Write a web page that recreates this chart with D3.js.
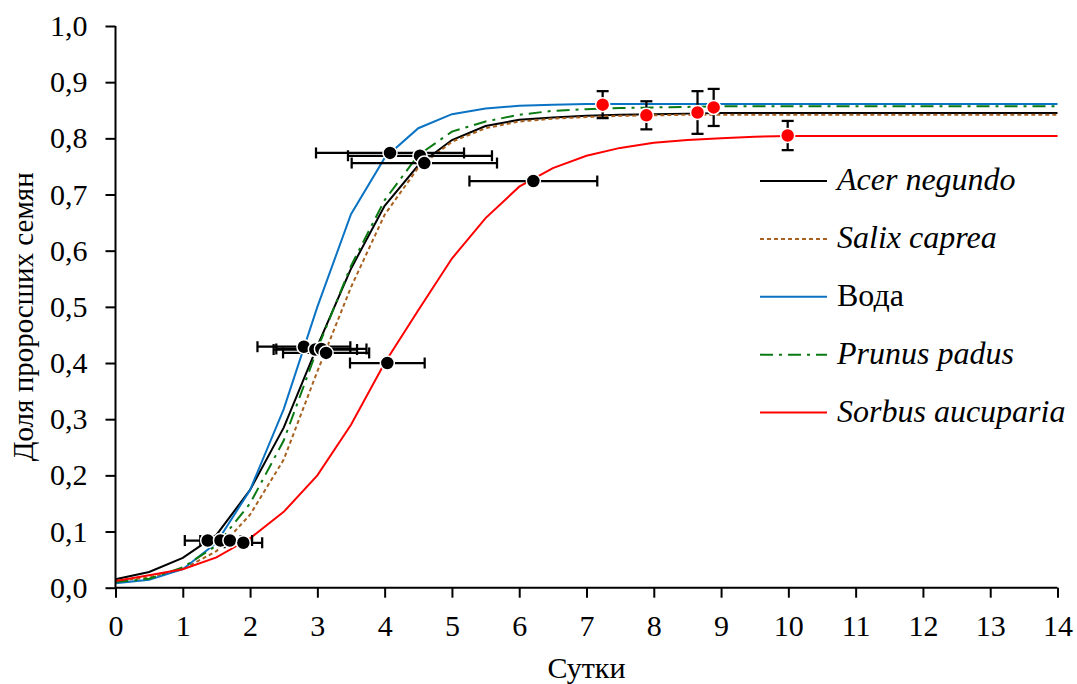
<!DOCTYPE html>
<html>
<head>
<meta charset="utf-8">
<script src="https://d3js.org/d3.v7.min.js"></script>
<style>
  body { margin: 0; background: #fff; }
  svg { font-family: "Liberation Serif", "Times New Roman", serif; }
</style>
</head>
<body>
<svg id="drawing_region"></svg>
<script>
// days on the x axis (curves are sampled every half day)
const days = [0, 0.5, 1, 1.5, 2, 2.5, 3, 3.5, 4, 4.5, 5, 5.5, 6, 6.5, 7, 7.5, 8, 8.5, 9, 9.5,
              10, 10.5, 11, 11.5, 12, 12.5, 13, 13.5, 14];

const acer = [0.015, 0.028, 0.053, 0.094, 0.174, 0.285, 0.430, 0.568, 0.680, 0.752, 0.797, 0.822, 0.833, 0.837, 0.840,
              0.842, 0.843, 0.844, 0.845, 0.845, 0.845, 0.845, 0.845, 0.845, 0.845, 0.845, 0.845, 0.845, 0.845];
const salix = [0.012, 0.018, 0.033, 0.065, 0.130, 0.228, 0.385, 0.535, 0.664, 0.748, 0.794, 0.818, 0.830, 0.835, 0.838,
               0.840, 0.841, 0.842, 0.842, 0.842, 0.842, 0.842, 0.842, 0.842, 0.842, 0.842, 0.842, 0.842, 0.842];
const voda = [0.008, 0.014, 0.033, 0.080, 0.174, 0.318, 0.500, 0.665, 0.765, 0.818, 0.843, 0.853, 0.858, 0.860, 0.861,
              0.861, 0.861, 0.861, 0.861, 0.861, 0.861, 0.861, 0.861, 0.861, 0.861, 0.861, 0.861, 0.861, 0.861];
const prunus = [0.010, 0.016, 0.036, 0.075, 0.150, 0.262, 0.425, 0.573, 0.690, 0.770, 0.812, 0.830, 0.842, 0.849, 0.852,
                0.854, 0.855, 0.856, 0.857, 0.857, 0.857, 0.857, 0.857, 0.857, 0.857, 0.857, 0.857, 0.857, 0.857];
const sorbus = [0.012, 0.022, 0.033, 0.054, 0.088, 0.135, 0.200, 0.290, 0.400, 0.494, 0.586, 0.658, 0.714, 0.747, 0.769,
                0.783, 0.792, 0.797, 0.800, 0.803, 0.804, 0.804, 0.804, 0.804, 0.804, 0.804, 0.804, 0.804, 0.804];

// observed points with horizontal error bars (black)
const obsX    = [1.37, 1.56, 1.70, 1.90, 2.80, 2.97, 3.06, 3.13, 4.04, 4.08, 4.525, 4.59, 6.21];
const obsY    = [0.084, 0.084, 0.084, 0.080, 0.429, 0.424, 0.425, 0.418, 0.400, 0.774, 0.769, 0.756, 0.724];
const obsXErr = [0.34, 0.30, 0.33, 0.28, 0.69, 0.62, 0.67, 0.64, 0.555, 1.10, 1.07, 1.08, 0.95];

// plateau points with vertical error bars (red)
const plateauX    = [7.24, 7.89, 8.65, 8.89, 9.99];
const plateauY    = [0.860, 0.841, 0.846, 0.855, 0.805];
const plateauYErr = [0.024, 0.025, 0.038, 0.033, 0.026];

const names = ["Acer negundo", "Salix caprea", "Вода", "Prunus padus", "Sorbus aucuparia"];
const italic = [true, true, false, true, true];
const xTicks = [0, 1, 2, 3, 4, 5, 6, 7, 8, 9, 10, 11, 12, 13, 14];
const yTicks = [0, 0.1, 0.2, 0.3, 0.4, 0.5, 0.6, 0.7, 0.8, 0.9, 1.0];

const series = [
    { name: names[0], values: acer,   color: '#000000', dash: null },
    { name: names[1], values: salix,  color: '#a8611f', dash: '4,3' },
    { name: names[2], values: voda,   color: '#0a73c4', dash: null },
    { name: names[3], values: prunus, color: '#0a7a12', dash: '13,6,3,6' },
    { name: names[4], values: sorbus, color: '#ff0000', dash: null }
];

const FONT = '"Liberation Serif", "Times New Roman", serif';

class GerminationChart {

    constructor( config ) {
        this.config = config;
        this.init();
    }

    init() {
        let self = this;

        self.svg = d3.select( self.config.parent )
            .attr('width', self.config.width)
            .attr('height', self.config.height);

        self.chart = self.svg.append('g')
            .attr('transform', `translate(${self.config.margin.left}, ${self.config.margin.top})`);

        self.inner_width = self.config.width - self.config.margin.left - self.config.margin.right;
        self.inner_height = self.config.height - self.config.margin.top - self.config.margin.bottom;

        self.xscale = d3.scaleLinear()
            .domain( [0, 14] )
            .range( [0, self.inner_width] );

        self.yscale = d3.scaleLinear()
            .domain( [0, 1] )
            .range( [self.inner_height, 0] );

        self.xaxis = d3.axisBottom( self.xscale )
            .tickValues( xTicks )
            .tickSize( 10 )
            .tickPadding( 17 )
            .tickFormat( d3.format('d') );

        self.yaxis = d3.axisLeft( self.yscale )
            .tickValues( yTicks )
            .tickSize( 10 )
            .tickPadding( 18 )
            .tickFormat( d => d3.format('.1f')(d).replace('.', ',') );
    }

    render() {
        let self = this;

        const line = d3.line()
            .x( (d, i) => self.xscale( days[i] ) )
            .y( d => self.yscale( d ) );

        self.chart.selectAll('.curve')
            .data( series )
            .enter()
            .append('path')
            .attr('class', 'curve')
            .attr('d', d => line( d.values ))
            .attr('fill', 'none')
            .attr('stroke', d => d.color)
            .attr('stroke-width', 2)
            .attr('stroke-dasharray', d => d.dash);

        // horizontal error bars
        const hbar = self.chart.selectAll('.hbar')
            .data( obsX )
            .enter()
            .append('g')
            .attr('class', 'hbar')
            .attr('stroke', '#000')
            .attr('stroke-width', 2.25);
        hbar.append('line')
            .attr('x1', (d, i) => self.xscale( d - obsXErr[i] ))
            .attr('x2', (d, i) => self.xscale( d + obsXErr[i] ))
            .attr('y1', (d, i) => self.yscale( obsY[i] ))
            .attr('y2', (d, i) => self.yscale( obsY[i] ));
        [-1, 1].forEach( s => {
            hbar.append('line')
                .attr('x1', (d, i) => self.xscale( d + s * obsXErr[i] ))
                .attr('x2', (d, i) => self.xscale( d + s * obsXErr[i] ))
                .attr('y1', (d, i) => self.yscale( obsY[i] ) - 5.5)
                .attr('y2', (d, i) => self.yscale( obsY[i] ) + 5.5);
        });

        // vertical error bars
        const vbar = self.chart.selectAll('.vbar')
            .data( plateauX )
            .enter()
            .append('g')
            .attr('class', 'vbar')
            .attr('stroke', '#000')
            .attr('stroke-width', 2.25);
        vbar.append('line')
            .attr('x1', d => self.xscale( d ))
            .attr('x2', d => self.xscale( d ))
            .attr('y1', (d, i) => self.yscale( plateauY[i] - plateauYErr[i] ))
            .attr('y2', (d, i) => self.yscale( plateauY[i] + plateauYErr[i] ));
        [-1, 1].forEach( s => {
            vbar.append('line')
                .attr('x1', d => self.xscale( d ) - 6)
                .attr('x2', d => self.xscale( d ) + 6)
                .attr('y1', (d, i) => self.yscale( plateauY[i] + s * plateauYErr[i] ))
                .attr('y2', (d, i) => self.yscale( plateauY[i] + s * plateauYErr[i] ));
        });

        self.chart.selectAll('.obs')
            .data( obsX )
            .enter()
            .append('circle')
            .attr('class', 'obs')
            .attr('cx', d => self.xscale( d ))
            .attr('cy', (d, i) => self.yscale( obsY[i] ))
            .attr('r', 7)
            .attr('fill', '#000')
            .attr('stroke', '#fff')
            .attr('stroke-width', 1.5);

        self.chart.selectAll('.plateau')
            .data( plateauX )
            .enter()
            .append('circle')
            .attr('class', 'plateau')
            .attr('cx', d => self.xscale( d ))
            .attr('cy', (d, i) => self.yscale( plateauY[i] ))
            .attr('r', 7)
            .attr('fill', '#ff0000')
            .attr('stroke', '#fff')
            .attr('stroke-width', 1.5);

        // axes
        const xg = self.chart.append('g')
            .attr('transform', `translate(0, ${self.inner_height})`)
            .call( self.xaxis );
        const yg = self.chart.append('g')
            .call( self.yaxis );
        [xg, yg].forEach( g => {
            g.selectAll('path, line').attr('stroke', '#000').attr('stroke-width', 2);
            g.select('.domain').attr('d', g === xg
                ? `M0,0H${self.inner_width}` : `M0,0V${self.inner_height}`);
            g.selectAll('text')
                .style('font-family', FONT)
                .attr('font-size', '30px')
                .attr('fill', '#000');
        });

        // axis titles
        self.chart.append('text')
            .attr('x', self.inner_width / 2)
            .attr('y', self.inner_height + 90)
            .attr('text-anchor', 'middle')
            .style('font-family', FONT)
            .attr('font-size', '30px')
            .text('Сутки');

        self.chart.append('text')
            .attr('transform', `translate(${33 - self.config.margin.left}, ${self.inner_height / 2 + 10}) rotate(-90)`)
            .attr('text-anchor', 'middle')
            .style('font-family', FONT)
            .attr('font-size', '29px')
            .text('Доля проросших семян');

        // legend
        const legend = self.svg.append('g')
            .selectAll('g')
            .data( series )
            .enter()
            .append('g')
            .attr('transform', (d, i) => `translate(760, ${181 + i * 57.9})`);
        legend.append('line')
            .attr('x1', 0)
            .attr('x2', 67)
            .attr('stroke', d => d.color)
            .attr('stroke-width', 2)
            .attr('stroke-dasharray', d => d.dash);
        legend.append('text')
            .attr('x', 77)
            .attr('y', 9)
            .style('font-family', FONT)
            .attr('font-size', '32px')
            .attr('font-style', (d, i) => italic[i] ? 'italic' : 'normal')
            .text(d => d.name);
    }
}

const chart = new GerminationChart({
    parent: '#drawing_region',
    width: 1077,
    height: 684,
    margin: { top: 26, right: 19.5, bottom: 96.3, left: 115.5 }
});
chart.render();
</script>
</body>
</html>
